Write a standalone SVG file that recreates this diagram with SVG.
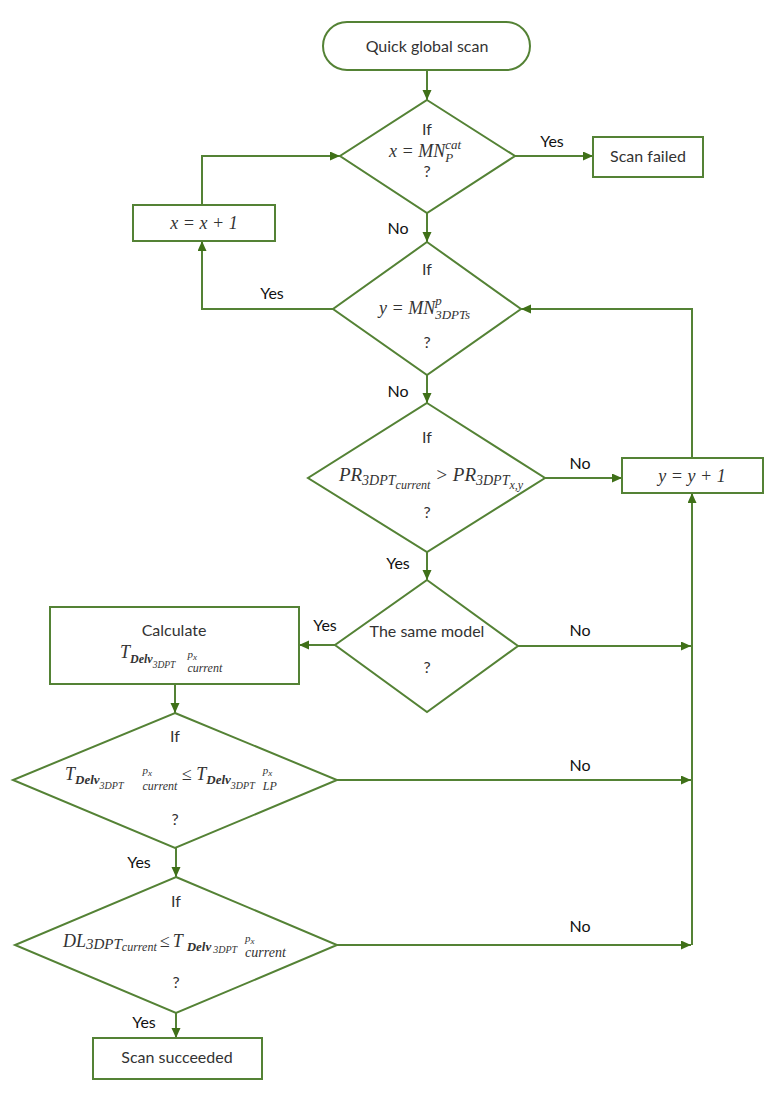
<svg xmlns="http://www.w3.org/2000/svg" width="773" height="1095" viewBox="0 0 773 1095">
<style>
.shape{fill:#fff;stroke:#548235;stroke-width:2}
.conn{fill:none;stroke:#548235;stroke-width:2}
.t{font-family:Lato,"Liberation Sans",sans-serif;font-size:16px;fill:#333;text-anchor:middle}
.lbl{font-family:Lato,"Liberation Sans",sans-serif;font-size:16px;fill:#111;text-anchor:middle}
.m{font-family:"Liberation Serif","DejaVu Serif",serif;font-style:italic;font-size:18px;fill:#333}
.s15{font-size:15px}
.s14{font-size:14px}
.s13{font-size:13px}
.s12{font-size:12px}
.s11{font-size:11px}
.s10{font-size:10px}
.s9{font-size:9.5px}
.s8{font-size:9px}
.b{font-weight:bold}
</style>
<defs>
<marker id="arr" markerUnits="userSpaceOnUse" markerWidth="11" markerHeight="10" refX="10" refY="4.5" orient="auto">
<path d="M0,0 L10,4.5 L0,9 z" fill="#3f7018"/>
</marker>
</defs>

<g id="connectors">
<path class="conn" d="M427,70 V100" marker-end="url(#arr)"/>
<path class="conn" d="M515,156 H593" marker-end="url(#arr)"/>
<path class="conn" d="M202,205 V156 H340" marker-end="url(#arr)"/>
<path class="conn" d="M427,213 V242" marker-end="url(#arr)"/>
<path class="conn" d="M333,309 H202 V241" marker-end="url(#arr)"/>
<path class="conn" d="M692,458 V309 H521" marker-end="url(#arr)"/>
<path class="conn" d="M427,375 V403" marker-end="url(#arr)"/>
<path class="conn" d="M545,478 H622" marker-end="url(#arr)"/>
<path class="conn" d="M427,552 V580" marker-end="url(#arr)"/>
<path class="conn" d="M335,645 H299" marker-end="url(#arr)"/>
<path class="conn" d="M518,646 H691" marker-end="url(#arr)"/>
<path class="conn" d="M175,684 V713" marker-end="url(#arr)"/>
<path class="conn" d="M337,780 H691" marker-end="url(#arr)"/>
<path class="conn" d="M176,848 V877" marker-end="url(#arr)"/>
<path class="conn" d="M337,945 H691" marker-end="url(#arr)"/>
<path class="conn" d="M692,945 V493" marker-end="url(#arr)"/>
<path class="conn" d="M176,1013 V1038" marker-end="url(#arr)"/>
<text class="lbl" x="552" y="147">Yes</text>
<text class="lbl" x="398" y="234">No</text>
<text class="lbl" x="272" y="299">Yes</text>
<text class="lbl" x="398" y="397">No</text>
<text class="lbl" x="580" y="469">No</text>
<text class="lbl" x="398" y="569">Yes</text>
<text class="lbl" x="325" y="631">Yes</text>
<text class="lbl" x="580" y="636">No</text>
<text class="lbl" x="580" y="771">No</text>
<text class="lbl" x="139" y="868">Yes</text>
<text class="lbl" x="580" y="932">No</text>
<text class="lbl" x="144" y="1028">Yes</text>
</g>

<g id="start">
<rect class="shape" x="323" y="22" width="207" height="48" rx="24"/>
<text class="t" x="427" y="52">Quick global scan</text>
</g>

<g id="dec1">
<polygon class="shape" points="427,100 515,156 427,213 340,156"/>
<text class="t" x="427" y="135">If</text>
<text class="m" x="389" y="157">x = MN<tspan class="s13" dy="-8">cat</tspan><tspan class="s13" dx="-15.9" dy="13">P</tspan></text>
<text class="t" x="427" y="177">?</text>
</g>

<g id="failed">
<rect class="shape" x="593" y="137" width="110" height="40"/>
<text class="t" x="648" y="162">Scan failed</text>
</g>

<g id="incx">
<rect class="shape" x="133" y="205" width="142" height="36"/>
<text class="m" x="204" y="229" text-anchor="middle">x = x + 1</text>
</g>

<g id="dec2">
<polygon class="shape" points="427,242 521,309 427,375 333,309"/>
<text class="t" x="427" y="275">If</text>
<text class="m" x="379" y="314">y = MN<tspan class="s13" dy="-9">p</tspan><tspan class="s13" dx="-6.5" dy="14">3DPTs</tspan></text>
<text class="t" x="427" y="348">?</text>
</g>

<g id="dec3">
<polygon class="shape" points="427,403 545,478 427,552 308,478"/>
<text class="t" x="427" y="443">If</text>
<text class="m" x="431" y="481" text-anchor="middle" style="font-size:19px">PR<tspan class="s14" dy="4">3DPT</tspan><tspan class="s12" dy="4">current</tspan><tspan dy="-8"> &gt; PR</tspan><tspan class="s14" dy="4">3DPT</tspan><tspan class="s12" dy="4">x,y</tspan></text>
<text class="t" x="427" y="518">?</text>
</g>

<g id="incy">
<rect class="shape" x="622" y="458" width="141" height="35"/>
<text class="m" x="692" y="482" text-anchor="middle">y = y + 1</text>
</g>

<g id="dec4">
<polygon class="shape" points="427,580 518,646 427,712 335,645"/>
<text class="t" x="427" y="637">The same model</text>
<text class="t" x="427" y="673">?</text>
</g>

<g id="calc">
<rect class="shape" x="50" y="607" width="249" height="77"/>
<text class="t" x="174" y="636">Calculate</text>
<text class="m" x="120" y="658">T<tspan class="s12 b" dy="5">Delv</tspan><tspan class="s9" dy="5">3DPT</tspan><tspan class="s11" dx="12" dy="-10">p</tspan><tspan class="s8" dy="2">x</tspan><tspan class="s12" dx="-9.5" dy="12">current</tspan></text>
</g>

<g id="dec5">
<polygon class="shape" points="175,713 337,780 175,848 13,780"/>
<text class="t" x="175" y="742">If</text>
<text class="m" x="65" y="780">T<tspan class="s13 b" dy="4">Delv</tspan><tspan class="s10" dy="5">3DPT</tspan><tspan class="s11" dx="19" dy="-15">p</tspan><tspan class="s8" dy="2">x</tspan><tspan class="s12" dx="-9.5" dy="14">current</tspan><tspan dy="-10"> ≤ T</tspan><tspan class="s13 b" dy="4">Delv</tspan><tspan class="s10" dy="5">3DPT</tspan><tspan class="s11" dx="8" dy="-15">p</tspan><tspan class="s8" dy="2">x</tspan><tspan class="s12" dx="-9.5" dy="14">LP</tspan></text>
<text class="t" x="175" y="825">?</text>
</g>

<g id="dec6">
<polygon class="shape" points="176,877 337,945 176,1013 15,945"/>
<text class="t" x="176" y="907">If</text>
<text class="m" x="63" y="947">DL<tspan class="s15" dy="2">3DPT</tspan><tspan class="s12" dy="2">current</tspan><tspan dx="3" dy="-4">≤</tspan><tspan dx="3">T</tspan><tspan class="s13 b" dx="4" dy="4">Delv</tspan><tspan class="s10" dx="2" dy="2">3DPT</tspan><tspan class="s11" dx="8" dy="-11">p</tspan><tspan class="s8" dy="2">x</tspan><tspan class="s14" dx="-9.5" dy="13">current</tspan></text>
<text class="t" x="176" y="988">?</text>
</g>

<g id="succeeded">
<rect class="shape" x="93" y="1038" width="169" height="41"/>
<text class="t" x="177" y="1063">Scan succeeded</text>
</g>
</svg>
